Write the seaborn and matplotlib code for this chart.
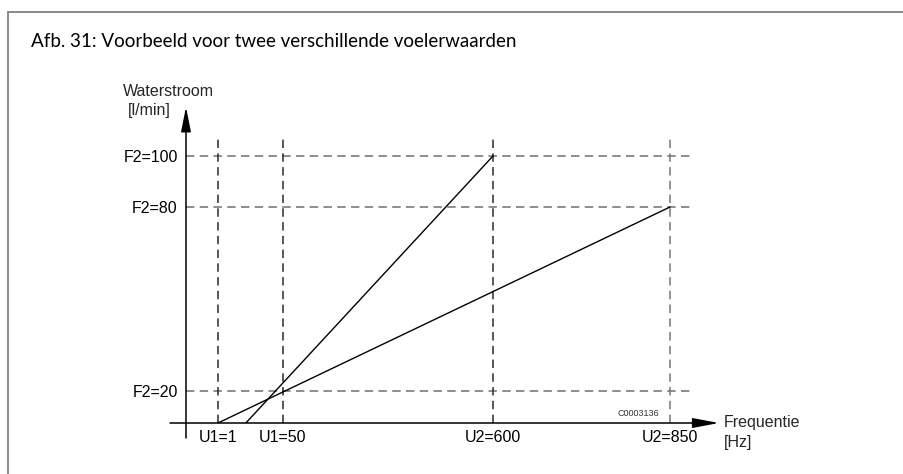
import numpy as np
import pandas as pd
import matplotlib
matplotlib.use("Agg")
import matplotlib.pyplot as plt
from matplotlib.lines import Line2D
import seaborn as sns

# --- data -------------------------------------------------------------
u_ticks = [1, 50, 600, 850]
u_labels = ["U1=1", "U1=50", "U2=600", "U2=850"]
f_ticks = [20, 80, 100]
f_labels = ["F2=20", "F2=80", "F2=100"]

# two sensor characteristics: start and end point (frequency, flow)
line_a_u = [1, 850]
line_a_f = [0, 80]
line_b_u = [22, 600]
line_b_f = [0, 100]

title = "Afb. 31: Voorbeeld voor twee verschillende voelerwaarden"
y_name = ["Waterstroom", "[l/min]"]
x_name = ["Frequentie", "[Hz]"]
drawing_code = "C0003136"

# --- schematic (non-proportional) axis layout ----------------------------
x_knots_val = [0, 1, 50, 600, 850, 900]
x_knots_pos = [186, 218, 283, 493, 670, 719]
y_knots_val = [0, 20, 80, 100, 119]
y_knots_pos = [0, 32, 216, 267, 316]


def x_fwd(v):
    return np.interp(v, x_knots_val, x_knots_pos)


def x_inv(p):
    return np.interp(p, x_knots_pos, x_knots_val)


def y_fwd(v):
    return np.interp(v, y_knots_val, y_knots_pos)


def y_inv(p):
    return np.interp(p, y_knots_pos, y_knots_val)


sns.set_theme(style="white")
plt.rcParams["font.family"] = ["Liberation Sans", "DejaVu Sans"]

W, H = 904, 474
fig = plt.figure(figsize=(W / 100, H / 100), dpi=100)
fig.patch.set_facecolor("white")


def fx(px):
    return px / W


def fy(py):
    return 1 - py / H


ax = fig.add_axes([fx(186), fy(423), (719 - 186) / W, (423 - 107) / H])
ax.set_xscale("function", functions=(x_fwd, x_inv))
ax.set_yscale("function", functions=(y_fwd, y_inv))
ax.set_xlim(0, 900)
ax.set_ylim(0, 119)
ax.set_facecolor("none")
for s in ax.spines.values():
    s.set_visible(False)

# dashed guide lines
h_end = (690 - 186) / (719 - 186)
v_end = (423 - 136) / (423 - 107)
for f in f_ticks:
    ax.axhline(f, xmin=0, xmax=h_end, color="#6f6f6f", lw=1.1,
               dashes=(5.5, 3.5), zorder=1)
v_colors = ["#2a2a2a", "#2a2a2a", "#2a2a2a", "#777777"]
for u, c in zip(u_ticks, v_colors):
    ax.axvline(u, ymin=0, ymax=v_end, color=c, lw=1.1,
               dashes=(5.5, 3.5), zorder=1)

# characteristic lines
df = pd.DataFrame({
    "U": line_a_u + line_b_u,
    "F": line_a_f + line_b_f,
    "serie": ["a"] * len(line_a_u) + ["b"] * len(line_b_u),
})
sns.lineplot(data=df, x="U", y="F", units="serie", estimator=None,
             color="black", lw=1.0, ax=ax, zorder=3, sort=False)

# axes with arrow heads
ax.annotate("", xy=(1, 0), xytext=(-16 / 533, 0),
            xycoords="axes fraction", textcoords="axes fraction",
            arrowprops=dict(arrowstyle="-|>,head_length=1.6,head_width=0.3",
                            color="black", lw=1.1, shrinkA=0, shrinkB=0,
                            mutation_scale=10),
            annotation_clip=False)
ax.annotate("", xy=(0, 1), xytext=(0, -15 / 316),
            xycoords="axes fraction", textcoords="axes fraction",
            arrowprops=dict(arrowstyle="-|>,head_length=1.5,head_width=0.3",
                            color="black", lw=1.1, shrinkA=0, shrinkB=0,
                            mutation_scale=10),
            annotation_clip=False)

# ticks and labels
ax.set_xticks(u_ticks, u_labels)
ax.set_yticks(f_ticks, f_labels)
ax.tick_params(axis="both", length=0, labelsize=11.5, colors="black")
ax.tick_params(axis="x", pad=5)
ax.tick_params(axis="y", pad=6)
ax.minorticks_off()
ax.set_xlabel("")
ax.set_ylabel("")

fs = 11.5
fig.text(fx(123), fy(92), y_name[0], ha="left", va="center", fontsize=fs)
fig.text(fx(128), fy(111), y_name[1], ha="left", va="center", fontsize=fs)
fig.text(fx(724), fy(423), x_name[0], ha="left", va="center", fontsize=fs)
fig.text(fx(724), fy(442), x_name[1], ha="left", va="center", fontsize=fs)
fig.text(fx(638), fy(414), drawing_code, ha="center", va="center",
         fontsize=6.5, color="#333333")

# title and frame
fig.text(fx(31), fy(47), title, ha="left", va="baseline", fontsize=13.5,
         family=["Lato", "DejaVu Sans"], color="black")
frame_col = "#808080"
fig.add_artist(Line2D([fx(8), 1], [fy(12), fy(12)], color=frame_col, lw=1.3))
fig.add_artist(Line2D([fx(8), fx(8)], [fy(12), 0], color=frame_col, lw=1.3))

fig.savefig("out.png", dpi=100, facecolor="white")
